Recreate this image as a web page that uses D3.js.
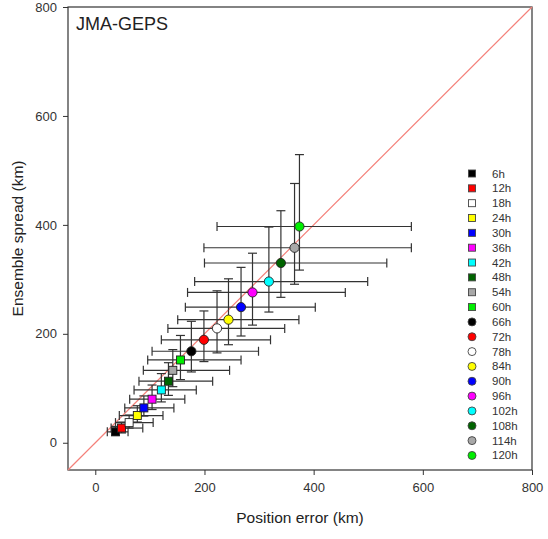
<!DOCTYPE html>
<html>
<head>
<meta charset="utf-8">
<script src="https://cdn.jsdelivr.net/npm/d3@7"></script>
<style>
  html, body { margin: 0; padding: 0; background: #fff; }
  svg text { font-family: "Liberation Sans", Arial, sans-serif; fill: #222; }
</style>
</head>
<body>
<div id="chart"></div>
<script>
// forecast lead times and their values (km)
const leadTimes = ["6h", "12h", "18h", "24h", "30h", "36h", "42h", "48h", "54h", "60h",
  "66h", "72h", "78h", "84h", "90h", "96h", "102h", "108h", "114h", "120h"];
const posError = [37, 48, 62, 77, 89, 104, 121, 134, 142, 156, 176, 199, 223, 244, 267, 288, 318, 340, 365, 374];
const spread = [20, 27, 37, 50, 64, 80, 97, 113, 133, 152, 168, 189, 210, 226, 249, 276, 296, 330, 358, 397];
const errLow = [22, 29, 37, 44, 54, 63, 71, 80, 88, 96, 104, 121, 133, 151, 165, 169, 182, 200, 199, 223];
const errHigh = [60, 87, 106, 124, 144, 164, 185, 215, 246, 267, 299, 321, 347, 373, 403, 458, 499, 534, 579, 579];
const spreadLow = [14, 18, 27, 38, 49, 61, 75, 87, 103, 116, 130, 149, 165, 180, 196, 216, 240, 267, 291, 317];
const spreadHigh = [30, 38, 51, 68, 86, 106, 127, 147, 171, 197, 223, 242, 279, 301, 322, 348, 396, 426, 476, 529];
const fills = ["#000000", "#ff0000", "#ffffff", "#ffff00", "#0000ff", "#ff00ff", "#00ffff", "#006400", "#a8a8a8", "#00ee00",
  "#000000", "#ff0000", "#ffffff", "#ffff00", "#0000ff", "#ff00ff", "#00ffff", "#006400", "#a8a8a8", "#00ee00"];
const shapes = leadTimes.map((d, i) => i < 10 ? "square" : "circle");
const ticks = [0, 200, 400, 600, 800];

const W = 548, H = 539;
const margin = { top: 7, right: 16, bottom: 69, left: 68 };
const width = W - margin.left - margin.right;
const height = H - margin.top - margin.bottom;

const data = leadTimes.map((lt, i) => ({
  lt, x: posError[i], y: spread[i],
  x0: errLow[i], x1: errHigh[i], y0: spreadLow[i], y1: spreadHigh[i],
  fill: fills[i], shape: shapes[i]
}));

const svg = d3.select("#chart").append("svg")
  .attr("width", W).attr("height", H);

const g = svg.append("g").attr("transform", `translate(${margin.left},${margin.top})`);

const x = d3.scaleLinear().domain([-50, 800]).range([0, width]);
const y = d3.scaleLinear().domain([-50, 800]).range([height, 0]);

// axes
const xAxis = g.append("g")
  .attr("transform", `translate(0,${height})`)
  .call(d3.axisBottom(x).tickValues(ticks).tickSize(5).tickPadding(8));
const yAxis = g.append("g")
  .call(d3.axisLeft(y).tickValues(ticks).tickSize(5).tickPadding(6));
[xAxis, yAxis].forEach(a => {
  a.select(".domain").remove();
  a.selectAll("line").attr("stroke", "#333");
  a.selectAll("text").style("font-size", "13px").style("fill", "#333");
});

// frame
g.append("rect")
  .attr("width", width).attr("height", height)
  .attr("fill", "none").attr("stroke", "#333").attr("stroke-width", 1.2);

// 1:1 line
g.append("line")
  .attr("x1", x(-50)).attr("y1", y(-50))
  .attr("x2", x(800)).attr("y2", y(800))
  .attr("stroke", "#f4817a").attr("stroke-width", 1.2);

const cap = 4.5;
const series = g.append("g");
data.forEach(d => {
  const s = series.append("g").attr("stroke", "#333").attr("stroke-width", 1.2);
  s.append("line").attr("x1", x(d.x0)).attr("x2", x(d.x1)).attr("y1", y(d.y)).attr("y2", y(d.y));
  s.append("line").attr("x1", x(d.x0)).attr("x2", x(d.x0)).attr("y1", y(d.y) - cap).attr("y2", y(d.y) + cap);
  s.append("line").attr("x1", x(d.x1)).attr("x2", x(d.x1)).attr("y1", y(d.y) - cap).attr("y2", y(d.y) + cap);
  s.append("line").attr("x1", x(d.x)).attr("x2", x(d.x)).attr("y1", y(d.y0)).attr("y2", y(d.y1));
  s.append("line").attr("x1", x(d.x) - cap).attr("x2", x(d.x) + cap).attr("y1", y(d.y0)).attr("y2", y(d.y0));
  s.append("line").attr("x1", x(d.x) - cap).attr("x2", x(d.x) + cap).attr("y1", y(d.y1)).attr("y2", y(d.y1));
  if (d.shape === "square") {
    g.append("rect")
      .attr("x", x(d.x) - 4).attr("y", y(d.y) - 4)
      .attr("width", 8).attr("height", 8)
      .attr("fill", d.fill).attr("stroke", "#222").attr("stroke-width", 0.9);
  } else {
    g.append("circle")
      .attr("cx", x(d.x)).attr("cy", y(d.y)).attr("r", 4.6)
      .attr("fill", d.fill).attr("stroke", "#222").attr("stroke-width", 0.9);
  }
});

// label
g.append("text")
  .attr("x", 8).attr("y", 23)
  .style("font-size", "18px").style("fill", "#222")
  .text("JMA-GEPS");

// legend
const legend = svg.append("g").attr("transform", "translate(472,173.5)");
const step = 14.84;
data.forEach((d, i) => {
  const row = legend.append("g").attr("transform", `translate(0,${i * step})`);
  if (d.shape === "square") {
    row.append("rect").attr("x", -3.5).attr("y", -3.5).attr("width", 7).attr("height", 7)
      .attr("fill", d.fill).attr("stroke", "#444").attr("stroke-width", 0.9);
  } else {
    row.append("circle").attr("r", 4)
      .attr("fill", d.fill).attr("stroke", "#444").attr("stroke-width", 0.9);
  }
  row.append("text").attr("x", 20).attr("y", 4)
    .style("font-size", "11.5px").style("fill", "#333")
    .text(d.lt);
});

// axis titles
svg.append("text")
  .attr("x", margin.left + width / 2).attr("y", 523)
  .attr("text-anchor", "middle")
  .style("font-size", "15.5px")
  .text("Position error (km)");

svg.append("text")
  .attr("transform", `translate(23,${margin.top + height / 2}) rotate(-90)`)
  .attr("text-anchor", "middle")
  .style("font-size", "15.5px")
  .text("Ensemble spread (km)");
</script>
</body>
</html>
